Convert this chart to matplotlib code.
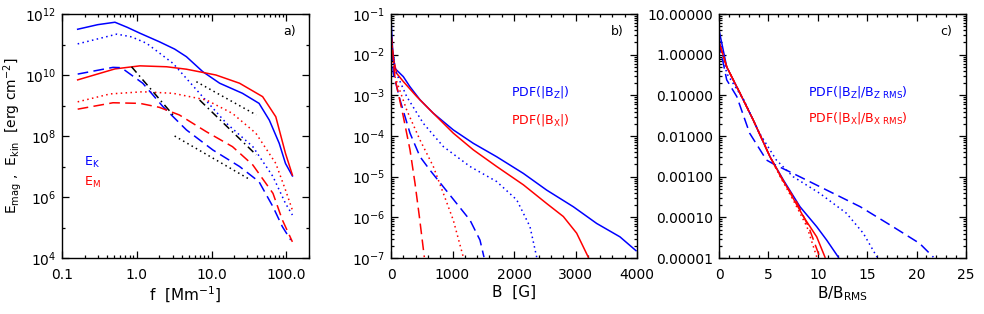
import numpy as np
import matplotlib
matplotlib.use("Agg")
import matplotlib.pyplot as plt
from matplotlib.ticker import FixedLocator, FuncFormatter, MultipleLocator, LogLocator, NullFormatter

plt.rcParams['font.family'] = ['DejaVu Sans']
plt.rcParams['mathtext.fontset'] = 'dejavusans'

# ---------------- Panel a: spectra ----------------
f_bs = [0.162, 0.3, 0.51, 0.75, 1.1, 2.0, 3.2, 4.6, 7.6, 12.8, 25.8, 43, 59, 80, 97, 120]
E_bs = [11.5, 11.65, 11.73, 11.56, 11.37, 11.09, 10.85, 10.6, 10.11, 9.73, 9.4, 9.07, 8.52, 7.76, 7.1, 6.69]
f_rs = [0.162, 0.51, 1.1, 2.5, 4.6, 11.4, 23.6, 48, 72, 97, 120]
E_rs = [9.84, 10.2, 10.3, 10.27, 10.19, 10.0, 9.73, 9.29, 8.63, 7.43, 6.72]
f_bd = [0.162, 0.54, 0.85, 1.35, 3.05, 6.9, 15.7, 35.5, 66, 97, 120]
E_bd = [11.02, 11.34, 11.25, 11.04, 10.38, 9.4, 8.42, 7.65, 6.67, 5.79, 5.41]
f_rd = [0.162, 0.44, 1.2, 3.05, 8.5, 19, 39, 72, 97, 120]
E_rd = [9.12, 9.38, 9.45, 9.4, 9.18, 8.74, 8.09, 7.1, 6.23, 5.57]
f_bda = [0.162, 0.48, 0.62, 1.2, 2.24, 4.6, 10.4, 23.6, 43, 66, 88, 114]
E_bda = [10.03, 10.25, 10.24, 9.73, 8.96, 8.2, 7.54, 7.0, 6.5, 5.68, 5.03, 4.59]
f_rda = [0.162, 0.48, 1.1, 2.0, 3.7, 8.5, 19, 35.5, 66, 88, 120]
E_rda = [8.88, 9.09, 9.07, 8.94, 8.69, 8.14, 7.65, 7.05, 6.12, 5.25, 4.53]
# reference power laws (black)
f_k1 = [0.85, 3.2]; E_k1 = [10.27, 8.63]
f_k2 = [6.9, 39.5]; E_k2 = [9.18, 7.38]
f_k3 = [6.25, 39.5]; E_k3 = [9.78, 8.69]
f_k4 = [3.2, 30.5]; E_k4 = [8.0, 6.61]

# ---------------- Panel b: PDFs in G ----------------
B_bs = [0, 27, 65, 200, 309, 472, 688, 1013, 1338, 1718, 2152, 2531, 2965, 3344, 3723, 3984]
P_bs = [-1.11, -1.89, -2.34, -2.54, -2.79, -3.11, -3.44, -3.85, -4.18, -4.51, -4.92, -5.33, -5.74, -6.15, -6.48, -6.82]
B_rs = [0, 38, 92, 200, 418, 634, 1013, 1338, 1718, 2152, 2531, 2802, 3019, 3208]
P_rs = [-1.47, -2.09, -2.46, -2.66, -3.03, -3.36, -3.93, -4.34, -4.75, -5.20, -5.66, -5.98, -6.39, -6.98]
B_bd = [0, 65, 255, 526, 851, 1285, 1718, 2044, 2260, 2369]
P_bd = [-1.6, -2.38, -3.03, -3.69, -4.26, -4.75, -5.12, -5.57, -6.23, -6.98]
B_rd = [0, 65, 255, 472, 688, 851, 1013, 1176]
P_rd = [-1.7, -2.54, -3.36, -4.10, -4.75, -5.41, -6.07, -6.98]
B_bda = [0, 38, 146, 309, 472, 634, 851, 1068, 1285, 1447, 1512]
P_bda = [-1.5, -2.46, -3.11, -3.93, -4.51, -4.84, -5.25, -5.66, -6.07, -6.56, -6.98]
B_rda = [0, 65, 200, 309, 390, 461, 542]
P_rda = [-1.48, -2.58, -3.52, -4.34, -5.16, -5.98, -6.98]

# ---------------- Panel c: normalised PDFs ----------------
v_bs = [0, 0.78, 2.13, 3.47, 5.16, 6.51, 8.2, 9.89, 10.9, 12.08]
Q_bs = [0.61, -0.30, -0.95, -1.61, -2.51, -3.08, -3.74, -4.23, -4.56, -4.98]
v_rs = [0, 0.78, 2.13, 3.47, 5.16, 6.51, 8.54, 9.89, 10.73]
Q_rs = [0.32, -0.30, -0.95, -1.61, -2.51, -3.10, -3.98, -4.48, -4.98]
v_bd = [0, 0.78, 2.5, 4.1, 5.8, 7.5, 10.2, 12.9, 14.6, 16.0]
Q_bd = [0.45, -0.46, -1.11, -1.93, -2.59, -3.0, -3.41, -3.90, -4.39, -4.98]
v_bda = [0, 0.78, 1.8, 3.1, 4.8, 5.6, 7.5, 10.9, 14.3, 17.6, 20.3, 21.7]
Q_bda = [0.3, -0.62, -1.03, -1.93, -2.59, -2.70, -2.92, -3.33, -3.74, -4.23, -4.64, -4.98]
v_rd = [0, 0.78, 2.13, 3.47, 5.16, 6.3, 7.5, 8.9, 9.9]
Q_rd = [0.3, -0.30, -0.95, -1.61, -2.51, -3.05, -3.57, -4.23, -4.98]
v_rda = [0, 0.78, 2.13, 3.47, 5.16, 6.4, 7.85, 9.1, 10.2]
Q_rda = [0.3, -0.30, -0.95, -1.61, -2.51, -3.07, -3.62, -4.25, -4.98]

BLUE = (0, 0, 1)
RED = (1, 0, 0)
LW = 1.1
FS = 10
DOT = (0, (1, 2.2))
DASH = (0, (7, 3.5))
DASHDOT = (0, (5, 2.5, 1, 2.5))

fig = plt.figure(figsize=(9.84, 3.14), dpi=100)
W, H = 984, 314

def add_ax(l, r, t=14, b=258):
    return fig.add_axes([l / W, 1 - b / H, (r - l) / W, (b - t) / H])

def style(ax):
    ax.tick_params(which='both', direction='in', top=True, right=True, labelsize=FS,
                   width=0.9, colors='black')
    ax.tick_params(which='major', length=5)
    ax.tick_params(which='minor', length=2.5)
    ax.tick_params(axis='x', which='major', pad=7)
    ax.tick_params(axis='y', which='major', pad=4)
    for s in ax.spines.values():
        s.set_linewidth(1.0)

p = lambda y: 10 ** np.array(y)

# ---- a ----
ax = add_ax(62, 309)
ax.set_xscale('log'); ax.set_yscale('log')
ax.plot(f_bs, p(E_bs), color=BLUE, lw=LW)
ax.plot(f_rs, p(E_rs), color=RED, lw=LW)
ax.plot(f_bd, p(E_bd), color=BLUE, lw=LW, ls=DOT)
ax.plot(f_rd, p(E_rd), color=RED, lw=LW, ls=DOT)
ax.plot(f_bda, p(E_bda), color=BLUE, lw=LW, ls=DASH)
ax.plot(f_rda, p(E_rda), color=RED, lw=LW, ls=DASH)
ax.plot(f_k1, p(E_k1), color='black', lw=LW, ls=DASHDOT)
ax.plot(f_k2, p(E_k2), color='black', lw=LW, ls=DASHDOT)
ax.plot(f_k3, p(E_k3), color='black', lw=LW, ls=DOT)
ax.plot(f_k4, p(E_k4), color='black', lw=LW, ls=DOT)
ax.set_xlim(0.1, 200)
ax.set_ylim(1e4, 1e12)
ax.xaxis.set_major_locator(FixedLocator([0.1, 1, 10, 100]))
ax.xaxis.set_major_formatter(FuncFormatter(lambda v, _: f"{v:.1f}"))
ax.xaxis.set_minor_locator(LogLocator(base=10, subs=np.arange(2, 10), numticks=20))
ax.xaxis.set_minor_formatter(NullFormatter())
ax.yaxis.set_major_locator(FixedLocator([1e4, 1e6, 1e8, 1e10, 1e12]))
ax.yaxis.set_major_formatter(FuncFormatter(lambda v, _: r"$10^{%d}$" % round(np.log10(v))))
ax.yaxis.set_minor_locator(FixedLocator([1e5, 1e7, 1e9, 1e11]))
ax.yaxis.set_minor_formatter(NullFormatter())
style(ax)
ax.set_xlabel(r"f  [Mm$^{-1}$]", fontsize=FS + 1, labelpad=2)
ax.set_ylabel(r"E$_{\rm mag}$ ,  E$_{\rm kin}$  [erg cm$^{-2}$]", fontsize=FS, labelpad=1)
ax.text(0.92, 0.93, "a)", transform=ax.transAxes, fontsize=FS - 1, ha='center', va='center')
ax.text(0.09, 0.39, r"E$_{\rm K}$", transform=ax.transAxes, color=BLUE, fontsize=FS - 1, va='center')
ax.text(0.09, 0.31, r"E$_{\rm M}$", transform=ax.transAxes, color=RED, fontsize=FS - 1, va='center')

# ---- b ----
ax = add_ax(391, 637)
ax.set_yscale('log')
ax.plot(B_bs, p(P_bs), color=BLUE, lw=LW)
ax.plot(B_rs, p(P_rs), color=RED, lw=LW)
ax.plot(B_bd, p(P_bd), color=BLUE, lw=LW, ls=DOT)
ax.plot(B_rd, p(P_rd), color=RED, lw=LW, ls=DOT)
ax.plot(B_bda, p(P_bda), color=BLUE, lw=LW, ls=DASH)
ax.plot(B_rda, p(P_rda), color=RED, lw=LW, ls=DASH)
ax.set_xlim(0, 4000)
ax.set_ylim(1e-7, 1e-1)
ax.xaxis.set_major_locator(MultipleLocator(1000))
ax.xaxis.set_minor_locator(MultipleLocator(200))
ax.yaxis.set_major_locator(FixedLocator([10.0 ** k for k in range(-7, 0)]))
ax.yaxis.set_major_formatter(FuncFormatter(lambda v, _: r"$10^{%d}$" % round(np.log10(v))))
ax.yaxis.set_minor_locator(LogLocator(base=10, subs=np.arange(2, 10), numticks=20))
ax.yaxis.set_minor_formatter(NullFormatter())
style(ax)
ax.set_xlabel("B  [G]", fontsize=FS + 1, labelpad=2)
ax.text(0.92, 0.93, "b)", transform=ax.transAxes, fontsize=FS - 1, ha='center', va='center')
ax.text(0.605, 0.68, r"PDF(|B$_{\rm Z}$|)", transform=ax.transAxes, color=BLUE, fontsize=FS - 1, ha='center', va='center')
ax.text(0.605, 0.565, r"PDF(|B$_{\rm X}$|)", transform=ax.transAxes, color=RED, fontsize=FS - 1, ha='center', va='center')

# ---- c ----
ax = add_ax(719, 966)
ax.set_yscale('log')
ax.plot(v_bs, p(Q_bs), color=BLUE, lw=LW)
ax.plot(v_rs, p(Q_rs), color=RED, lw=LW)
ax.plot(v_bd, p(Q_bd), color=BLUE, lw=LW, ls=DOT)
ax.plot(v_bda, p(Q_bda), color=BLUE, lw=LW, ls=DASH)
ax.plot(v_rd, p(Q_rd), color=RED, lw=LW, ls=DOT)
ax.plot(v_rda, p(Q_rda), color=RED, lw=LW, ls=DASH)
ax.set_xlim(0, 25)
ax.set_ylim(1e-5, 10)
ax.xaxis.set_major_locator(MultipleLocator(5))
ax.xaxis.set_minor_locator(MultipleLocator(1))
ax.yaxis.set_major_locator(FixedLocator([10.0 ** k for k in range(-5, 2)]))
ax.yaxis.set_major_formatter(FuncFormatter(lambda v, _: f"{v:.5f}"))
ax.yaxis.set_minor_locator(LogLocator(base=10, subs=np.arange(2, 10), numticks=20))
ax.yaxis.set_minor_formatter(NullFormatter())
style(ax)
ax.set_xlabel(r"B/B$_{\rm RMS}$", fontsize=FS + 1, labelpad=2)
ax.text(0.92, 0.93, "c)", transform=ax.transAxes, fontsize=FS - 1, ha='center', va='center')
ax.text(0.36, 0.68, r"PDF(|B$_{\rm Z}$|/B$_{\rm Z\ RMS}$)", transform=ax.transAxes, color=BLUE, fontsize=FS - 1, ha='left', va='center')
ax.text(0.36, 0.575, r"PDF(|B$_{\rm X}$|/B$_{\rm X\ RMS}$)", transform=ax.transAxes, color=RED, fontsize=FS - 1, ha='left', va='center')

fig.savefig("out.png", dpi=100)
